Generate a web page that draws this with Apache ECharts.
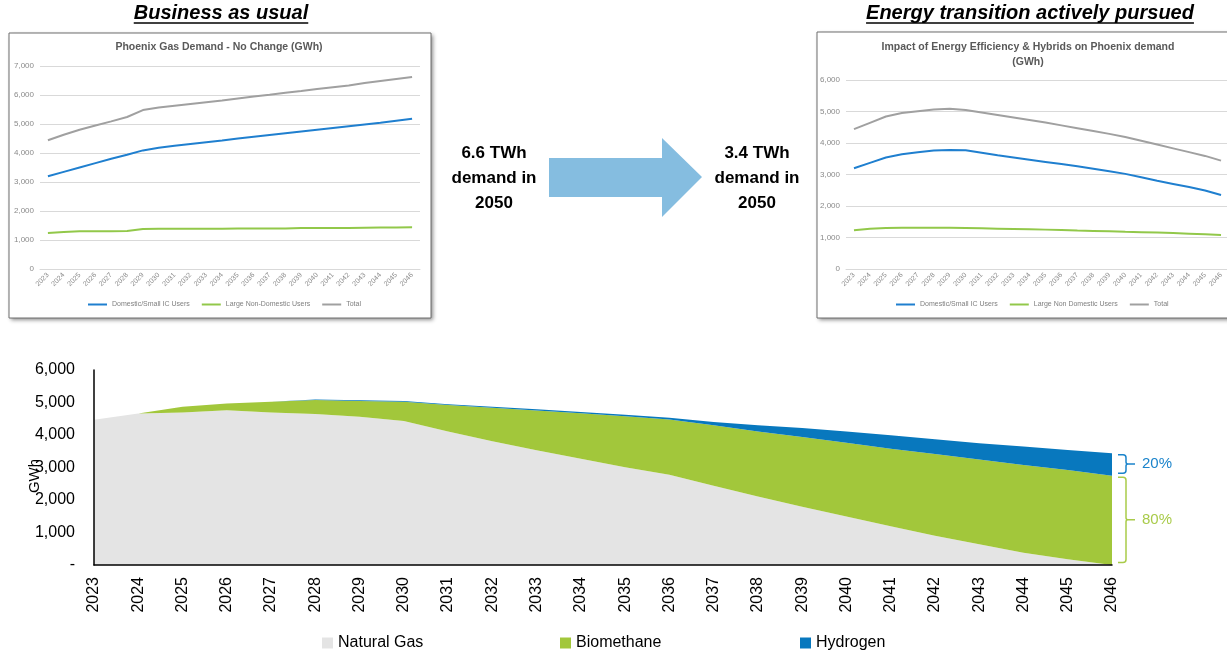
<!DOCTYPE html>
<html>
<head>
<meta charset="utf-8">
<title>Phoenix gas demand scenarios</title>
<script src="https://cdn.jsdelivr.net/npm/echarts@6/dist/echarts.min.js"></script>
<style>
  html, body { margin: 0; padding: 0; background: #fff; }
  #chart { width: 1227px; height: 652px; }
</style>
</head>
<body>
<div id="chart"></div>
<script>
// Years shared by all three panels
const years = ['2023', '2024', '2025', '2026', '2027', '2028', '2029', '2030', '2031', '2032', '2033', '2034',
               '2035', '2036', '2037', '2038', '2039', '2040', '2041', '2042', '2043', '2044', '2045', '2046'];

// Business as usual (GWh)
const bauDomestic = [3200, 3350, 3500, 3650, 3800, 3940, 4090, 4180, 4250, 4310, 4370, 4430,
                     4500, 4560, 4620, 4680, 4740, 4800, 4860, 4920, 4980, 5040, 5110, 5180];
const bauLarge    = [1240, 1280, 1300, 1300, 1300, 1310, 1380, 1390, 1390, 1390, 1390, 1390,
                     1400, 1400, 1400, 1400, 1410, 1410, 1410, 1410, 1420, 1430, 1430, 1440];
const bauTotal    = [4440, 4630, 4800, 4950, 5090, 5240, 5480, 5570, 5630, 5690, 5750, 5810,
                     5880, 5950, 6010, 6080, 6140, 6210, 6270, 6330, 6410, 6480, 6550, 6620];

// Energy efficiency & hybrids (GWh)
const etDomestic = [3200, 3370, 3540, 3640, 3710, 3760, 3780, 3770, 3690, 3610, 3540, 3470,
                    3400, 3330, 3260, 3180, 3100, 3020, 2910, 2800, 2700, 2600, 2490, 2350];
const etLarge    = [1230, 1280, 1300, 1310, 1310, 1310, 1310, 1300, 1290, 1280, 1270, 1260,
                    1250, 1240, 1220, 1210, 1200, 1180, 1170, 1160, 1140, 1120, 1100, 1080];
const etTotal    = [4440, 4640, 4840, 4950, 5010, 5060, 5090, 5050, 4970, 4890, 4810, 4730,
                    4650, 4560, 4470, 4380, 4290, 4190, 4070, 3950, 3830, 3710, 3590, 3440];

// Supply mix (GWh)
const naturalGas = [4470, 4660, 4690, 4760, 4690, 4650, 4560, 4430, 4110, 3810, 3530, 3270,
                    3010, 2780, 2440, 2110, 1790, 1490, 1190, 900, 640, 380, 175, 0];
const biomethane = [0, 0, 180, 210, 330, 430, 490, 595, 810, 1025, 1225, 1400,
                    1570, 1700, 1860, 2000, 2145, 2270, 2390, 2515, 2605, 2700, 2750, 2750];
const hydrogen   = [0, 0, 0, 0, 0, 10, 20, 25, 30, 35, 35, 40,
                    40, 50, 100, 190, 280, 350, 410, 455, 505, 570, 610, 690];

// Tick labels
const bauTicks = [0, 1000, 2000, 3000, 4000, 5000, 6000, 7000];
const etTicks  = [0, 1000, 2000, 3000, 4000, 5000, 6000];
const mixTicks = [0, 1000, 2000, 3000, 4000, 5000, 6000];

const FONT = '"Liberation Sans", Arial, sans-serif';
const C_DOM = '#1f7fcf', C_LARGE = '#92c84a', C_TOTAL = '#a0a0a0';
const C_NG = '#e4e4e4', C_BIO = '#a2c73b', C_H2 = '#0878be';
const C_BR_H2 = '#1b84cb', C_BR_BIO = '#a9cb4a';

const fmt = v => v.toLocaleString('en-US');

// Share brackets for the final year
const last = years.length - 1;
const lastTotal = naturalGas[last] + biomethane[last] + hydrogen[last];
const brackets = [
  { low: naturalGas[last] + biomethane[last], high: lastTotal,
    pct: Math.round(hydrogen[last] / lastTotal * 100), color: C_BR_H2 },
  { low: naturalGas[last], high: naturalGas[last] + biomethane[last],
    pct: Math.round(biomethane[last] / lastTotal * 100), color: C_BR_BIO }
];

function textWidth(text, font) {
  const ctx = document.createElement('canvas').getContext('2d');
  ctx.font = font;
  return ctx.measureText(text).width;
}

function smallCat(gridIndex) {
  return {
    type: 'category', gridIndex, data: years, boundaryGap: true,
    axisLine: { lineStyle: { color: '#d9d9d9' } },
    axisTick: { show: false },
    axisLabel: { rotate: 45, interval: 0, fontSize: 7, color: '#8a8a8a', margin: 5, fontFamily: FONT }
  };
}
function smallVal(gridIndex, ticks) {
  return {
    type: 'value', gridIndex, min: ticks[0], max: ticks[ticks.length - 1], interval: ticks[1] - ticks[0],
    axisLine: { show: false }, axisTick: { show: false },
    splitLine: { lineStyle: { color: '#d9d9d9' } },
    axisLabel: { fontSize: 8, color: '#8a8a8a', margin: 6, formatter: fmt, fontFamily: FONT }
  };
}
function lineSeries(name, data, color, idx) {
  return {
    name, type: 'line', data, xAxisIndex: idx, yAxisIndex: idx, symbol: 'none',
    lineStyle: { width: 2, color }, itemStyle: { color }, z: 3
  };
}
function areaSeries(name, data, color) {
  return {
    name, type: 'line', data, xAxisIndex: 2, yAxisIndex: 2, stack: 'mix', symbol: 'none',
    lineStyle: { width: 0, color }, itemStyle: { color }, areaStyle: { color, opacity: 1 }
  };
}
function frame(x, y, w, h) {
  return [
    { type: 'rect', z: -6, shape: { x, y, width: w, height: h },
      style: { fill: '#fff', shadowBlur: 4, shadowOffsetX: 2, shadowOffsetY: 2, shadowColor: 'rgba(0,0,0,0.45)' } },
    { type: 'rect', z: -5, shape: { x, y, width: w, height: h },
      style: { fill: '#fff', stroke: '#6e6e6e', lineWidth: 1 } }
  ];
}

const headFont = 'italic bold 20px "Liberation Sans"';
const headL = 'Business as usual', headR = 'Energy transition actively pursued';
const wL = textWidth(headL, headFont), wR = textWidth(headR, headFont);
const cxL = 221, cxR = 1030;

const smallLegendText = { fontSize: 7, color: '#7f7f7f', fontFamily: FONT };
const bigLegendText = { fontSize: 16, color: '#000', fontFamily: FONT };

const chart = echarts.init(document.getElementById('chart'));
chart.setOption({
  animation: false,
  backgroundColor: '#fff',
  textStyle: { fontFamily: FONT },
  grid: [
    { left: 40, top: 66, width: 380, height: 203, outerBoundsMode: 'none' },
    { left: 846, top: 80, width: 383, height: 189, outerBoundsMode: 'none' },
    { left: 94, top: 370, width: 1018, height: 195, outerBoundsMode: 'none' }
  ],
  xAxis: [
    smallCat(0),
    smallCat(1),
    {
      type: 'category', gridIndex: 2, data: years, boundaryGap: false, z: 10,
      axisLine: { lineStyle: { color: '#000', width: 1.5 } },
      axisTick: { show: false },
      axisLabel: { rotate: 90, interval: 0, fontSize: 16, color: '#000', margin: 12, fontFamily: FONT }
    }
  ],
  yAxis: [
    smallVal(0, bauTicks),
    smallVal(1, etTicks),
    {
      type: 'value', gridIndex: 2, min: mixTicks[0], max: mixTicks[mixTicks.length - 1],
      interval: mixTicks[1] - mixTicks[0], z: 10,
      axisLine: { show: true, lineStyle: { color: '#000', width: 1.5 } },
      axisTick: { show: false }, splitLine: { show: false },
      axisLabel: { fontSize: 16, color: '#000', margin: 19, fontFamily: FONT,
                   formatter: v => (v === 0 ? '-' : fmt(v)) }
    }
  ],
  legend: [
    { data: ['Domestic/Small IC Users', 'Large Non-Domestic Users', 'Total'], left: 88, top: 301,
      padding: 0, icon: 'rect', itemWidth: 19, itemHeight: 2, itemGap: 12, textStyle: smallLegendText },
    { data: ['Domestic/Small IC Users', 'Large Non Domestic Users', 'Total'], left: 896, top: 301,
      padding: 0, icon: 'rect', itemWidth: 19, itemHeight: 2, itemGap: 12, textStyle: smallLegendText },
    { data: ['Natural Gas'], left: 322, top: 635, padding: 0, icon: 'rect', itemWidth: 11, itemHeight: 11,
      textStyle: bigLegendText },
    { data: ['Biomethane'], left: 560, top: 635, padding: 0, icon: 'rect', itemWidth: 11, itemHeight: 11,
      textStyle: bigLegendText },
    { data: ['Hydrogen'], left: 800, top: 635, padding: 0, icon: 'rect', itemWidth: 11, itemHeight: 11,
      textStyle: bigLegendText }
  ],
  graphic: [
    // chart frames
    ...frame(9, 33, 422, 285),
    ...frame(817, 32, 430, 286),
    // chart titles
    { type: 'text', style: { text: 'Phoenix Gas Demand - No Change (GWh)', x: 219, y: 47,
      align: 'center', verticalAlign: 'middle', textAlign: 'center', textVerticalAlign: 'middle',
      font: 'bold 10.5px "Liberation Sans"', fill: '#595959' } },
    { type: 'text', style: { text: 'Impact of Energy Efficiency & Hybrids on Phoenix demand\n(GWh)',
      x: 1028, y: 54.5, lineHeight: 15, align: 'center', verticalAlign: 'middle', textAlign: 'center',
      textVerticalAlign: 'middle', font: 'bold 10.5px "Liberation Sans"', fill: '#595959' } },
    // scenario headings
    { type: 'text', style: { text: headL, x: cxL, y: 13, align: 'center', verticalAlign: 'middle',
      textAlign: 'center', textVerticalAlign: 'middle', font: headFont, fill: '#000' } },
    { type: 'line', shape: { x1: cxL - wL / 2, y1: 23, x2: cxL + wL / 2, y2: 23 },
      style: { stroke: '#000', lineWidth: 1.5 } },
    { type: 'text', style: { text: headR, x: cxR, y: 13, align: 'center', verticalAlign: 'middle',
      textAlign: 'center', textVerticalAlign: 'middle', font: headFont, fill: '#000' } },
    { type: 'line', shape: { x1: cxR - wR / 2, y1: 23, x2: cxR + wR / 2, y2: 23 },
      style: { stroke: '#000', lineWidth: 1.5 } },
    // 2050 demand call-outs and arrow
    { type: 'text', style: { text: '6.6 TWh\ndemand in\n2050', x: 494, y: 178, lineHeight: 25,
      align: 'center', verticalAlign: 'middle', textAlign: 'center', textVerticalAlign: 'middle',
      font: 'bold 17px "Liberation Sans"', fill: '#000' } },
    { type: 'text', style: { text: '3.4 TWh\ndemand in\n2050', x: 757, y: 178, lineHeight: 25,
      align: 'center', verticalAlign: 'middle', textAlign: 'center', textVerticalAlign: 'middle',
      font: 'bold 17px "Liberation Sans"', fill: '#000' } },
    { type: 'polygon', shape: { points: [[549, 158], [662, 158], [662, 138], [702, 177], [662, 217], [662, 197], [549, 197]] },
      style: { fill: '#85bde0' } },
    // unit title of the supply mix panel
    { type: 'text', rotation: Math.PI / 2, x: 35, y: 476,
      style: { text: 'GWh', x: 0, y: 0, align: 'center', verticalAlign: 'middle', textAlign: 'center',
               textVerticalAlign: 'middle', font: '15px "Liberation Sans"', fill: '#000' }, z: 20 }
  ],
  series: [
    lineSeries('Domestic/Small IC Users', bauDomestic, C_DOM, 0),
    lineSeries('Large Non-Domestic Users', bauLarge, C_LARGE, 0),
    lineSeries('Total', bauTotal, C_TOTAL, 0),
    lineSeries('Domestic/Small IC Users', etDomestic, C_DOM, 1),
    lineSeries('Large Non Domestic Users', etLarge, C_LARGE, 1),
    lineSeries('Total', etTotal, C_TOTAL, 1),
    areaSeries('Natural Gas', naturalGas, C_NG),
    areaSeries('Biomethane', biomethane, C_BIO),
    areaSeries('Hydrogen', hydrogen, C_H2),
    {
      type: 'custom', xAxisIndex: 2, yAxisIndex: 2, clip: false, silent: true, z: 5,
      data: brackets.map(b => [last, b.low, b.high]),
      encode: { x: 0, y: [1, 2] },
      renderItem(params, api) {
        const b = brackets[params.dataIndex];
        const top = api.coord([api.value(0), api.value(2)]);
        const bot = api.coord([api.value(0), api.value(1)]);
        const x0 = top[0] + 6, xv = x0 + 8;
        const y1 = top[1] + 1.5, y2 = bot[1] - 2.5, ym = (y1 + y2) / 2;
        const d = `M${x0} ${y1} L${xv - 3} ${y1} Q${xv} ${y1} ${xv} ${y1 + 3} L${xv} ${ym - 2} ` +
                  `Q${xv} ${ym} ${xv + 2} ${ym} L${xv + 9} ${ym} M${xv + 2} ${ym} Q${xv} ${ym} ${xv} ${ym + 2} ` +
                  `L${xv} ${y2 - 3} Q${xv} ${y2} ${xv - 3} ${y2} L${x0} ${y2}`;
        return {
          type: 'group',
          children: [
            { type: 'path', shape: { pathData: d },
              style: { fill: 'none', stroke: b.color, lineWidth: 1.5 } },
            { type: 'text', style: { text: b.pct + '%', x: xv + 16, y: ym, align: 'left', verticalAlign: 'middle',
              textAlign: 'left', textVerticalAlign: 'middle', font: '15px "Liberation Sans"', fill: b.color } }
          ]
        };
      }
    }
  ]
});
</script>
</body>
</html>
